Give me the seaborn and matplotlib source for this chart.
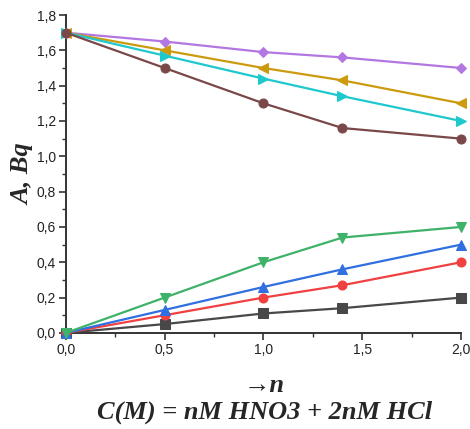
import numpy as np
import pandas as pd
import matplotlib
matplotlib.use("Agg")
import matplotlib.pyplot as plt
from matplotlib.ticker import MultipleLocator, FuncFormatter
import seaborn as sns

# Data
n = [0.0, 0.5, 1.0, 1.4, 2.0]
purple = [1.70, 1.65, 1.59, 1.56, 1.50]
gold = [1.70, 1.60, 1.50, 1.43, 1.30]
cyan = [1.70, 1.57, 1.44, 1.34, 1.20]
brown = [1.70, 1.50, 1.30, 1.16, 1.10]
green = [0.0, 0.20, 0.40, 0.54, 0.60]
blue = [0.0, 0.13, 0.26, 0.36, 0.50]
red = [0.0, 0.10, 0.20, 0.27, 0.40]
gray = [0.0, 0.05, 0.11, 0.14, 0.20]

series = [
    (gray, "#484848", "s"),
    (red, "#F04040", "o"),
    (blue, "#2F6FE0", "^"),
    (green, "#3FB26A", "v"),
    (purple, "#B277E0", "D"),
    (gold, "#CC9A0E", "<"),
    (cyan, "#1EC8CC", ">"),
    (brown, "#7A4848", "o"),
]

sns.set_style("ticks")
plt.rcParams['font.family'] = ['Liberation Sans', 'DejaVu Sans']

fig = plt.figure(figsize=(4.70, 4.29), dpi=100)
ax = fig.add_axes([0.140, 0.224, 0.841, 0.741])

for vals, col, mk in series:
    sns.lineplot(x=n, y=vals, ax=ax, color=col, marker=mk, markersize=6.5 if mk != "D" else 5.5,
                 markeredgecolor=col, linewidth=1.6, clip_on=False, zorder=3)

ax.set_xlim(0, 2.0)
ax.set_ylim(0, 1.8)
ax.xaxis.set_major_locator(MultipleLocator(0.5))
ax.xaxis.set_minor_locator(MultipleLocator(0.25))
ax.yaxis.set_major_locator(MultipleLocator(0.2))
ax.yaxis.set_minor_locator(MultipleLocator(0.1))
fmt = FuncFormatter(lambda v, p: ("%.1f" % v).replace(".", ","))
ax.xaxis.set_major_formatter(fmt)
ax.yaxis.set_major_formatter(fmt)

sns.despine(ax=ax)
for s in ["left", "bottom"]:
    ax.spines[s].set_color("#333333")
    ax.spines[s].set_linewidth(1.4)
ax.tick_params(which="major", length=5, width=1.2, color="#333333", labelsize=10,
               labelcolor="#222222", direction="out", pad=2)
ax.tick_params(which="minor", length=3, width=1.0, color="#333333", direction="out")

serif = dict(family=['Liberation Serif', 'DejaVu Serif'], fontweight="bold", fontstyle="italic")
ax.set_ylabel("A, Bq", fontsize=19, labelpad=2, **serif)
fig.text(0.562, 0.102, "→n", ha="center", va="center", fontsize=19, **serif)
fig.text(0.562, 0.040, "C(M) = nM HNO3 + 2nM HCl", ha="center", va="center", fontsize=19, **serif)

fig.savefig("out.png", dpi=100)
